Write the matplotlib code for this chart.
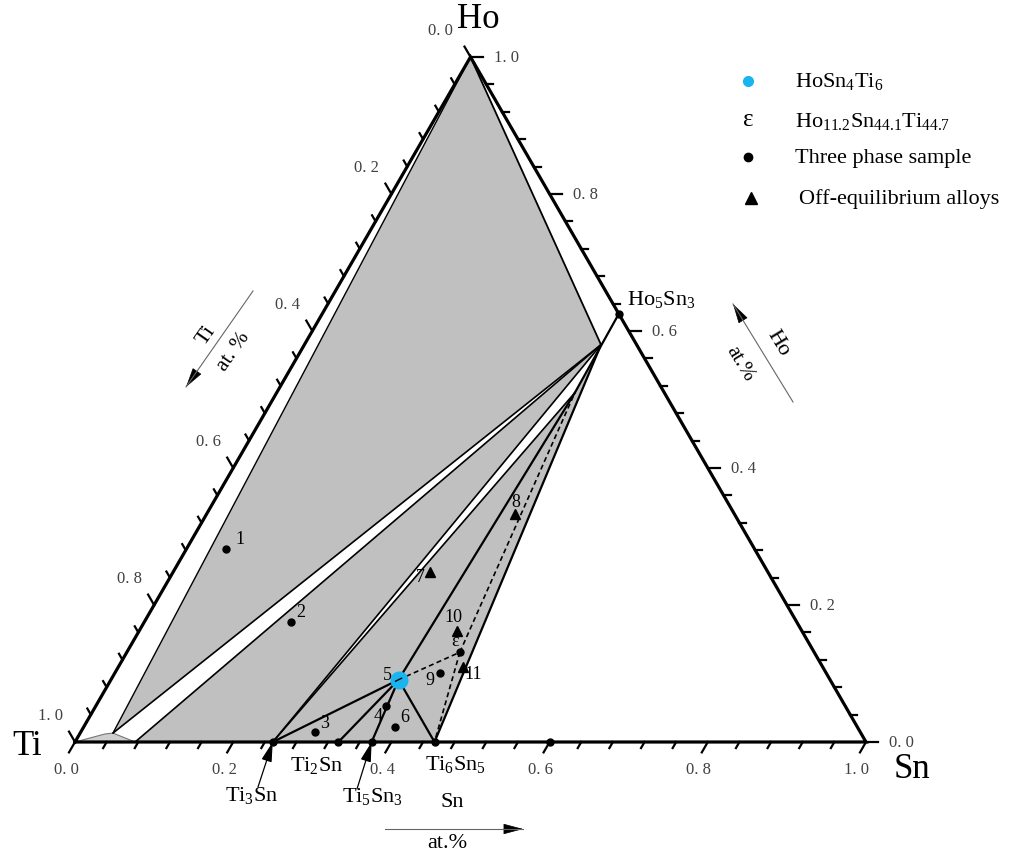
import numpy as np
import matplotlib
matplotlib.use('Agg')
import matplotlib.pyplot as plt
from matplotlib.patches import Polygon

plt.rcParams['font.family'] = ['Liberation Serif', 'DejaVu Serif']
plt.rcParams['mathtext.fontset'] = 'custom'
plt.rcParams['mathtext.rm'] = 'Liberation Serif'
plt.rcParams['mathtext.it'] = 'Liberation Serif:italic'

# ---------------- data: compositions as (Sn, Ho) atomic fractions ----------------
binary_names = ['Ti$_3$Sn', 'Ti$_2$Sn', 'Ti$_5$Sn$_3$', 'Ti$_6$Sn$_5$']
binary_sn = [0.25, 0.333, 0.375, 0.4545]
extra_dot_sn = [0.6]
ho5sn3 = (0.375, 0.625)
tau_comp = (0.3636, 0.0909)          # HoSn4Ti6 (sample 5)
eps_comp = (0.421, 0.131)            # epsilon
ss_a = (0.375, 0.58)                 # Ho5Sn3 solid solution end points
ss_b = (0.377, 0.51)
ti_ss_sn = [0.0, 0.032, 0.0415, 0.076]
ti_ss_ho = [0.0, 0.0117, 0.013, 0.0]

sample_ids = ['1', '2', '3', '4', '6', '9']
sample_sn = [0.050, 0.1855, 0.296, 0.367, 0.394, 0.411]
sample_ho = [0.282, 0.175, 0.0146, 0.0526, 0.0219, 0.1007]

offeq_ids = ['7', '8', '10', '11']
offeq_sn = [0.325, 0.390, 0.402, 0.436]
offeq_ho = [0.248, 0.333, 0.162, 0.1095]

tick_labels = ['0. 0', '0. 2', '0. 4', '0. 6', '0. 8', '1. 0']

S3 = np.sqrt(3) / 2


def T(sn, ho):
    sn = np.asarray(sn, float)
    ho = np.asarray(ho, float)
    return sn + ho / 2, ho * S3


def TP(c):
    return T(c[0], c[1])


def P(px, py):
    # layout helper: pixel position -> axes data coordinates
    return (px - 75) / 791, (743 - py) / 791


fig = plt.figure(figsize=(10.11, 8.54), dpi=100)
ax = fig.add_axes([0, 0, 1, 1])
ax.set_xlim(-75 / 791, 936 / 791)
ax.set_ylim(-111 / 791, 743 / 791)
ax.axis('off')

GRAY = '#c0c0c0'
HO = (0.0, 1.0)
p1 = (ti_ss_sn[2], ti_ss_ho[2])
p2 = (ti_ss_sn[3], ti_ss_ho[3])
ti3 = (binary_sn[0], 0.0)
ti2 = (binary_sn[1], 0.0)
ti53 = (binary_sn[2], 0.0)
ti65 = (binary_sn[3], 0.0)


def poly(pts, fc, ec='none', lw=0, z=1):
    xs, ys = T([p[0] for p in pts], [p[1] for p in pts])
    ax.add_patch(Polygon(np.column_stack([xs, ys]), closed=True, fc=fc, ec=ec, lw=lw, zorder=z))


poly([HO, ss_a, p1], GRAY)
poly([p2, ss_a, ti3], GRAY)
poly([ti3, ss_b, ss_a, ti65], GRAY)
# Ti solid solution
xs, ys = T(ti_ss_sn, ti_ss_ho)
ax.add_patch(Polygon(np.column_stack([xs, ys]), closed=True, fc='#cfcfcf', ec='#777777', lw=0.8, zorder=2))


def seg(a, b, lw=1.4, ls='-', color='black', z=3):
    xs, ys = T([a[0], b[0]], [a[1], b[1]])
    ax.plot(xs, ys, color=color, lw=lw, ls=ls, zorder=z, solid_capstyle='round')


# phase boundary lines
seg(HO, p1, lw=1.0)
seg(HO, ss_a, lw=1.3)
seg(ss_a, p1, lw=1.2)
seg(ss_a, p2, lw=1.2)
seg(ss_a, ti3, lw=1.2)
seg(ss_b, ti3, lw=1.2)
seg(ho5sn3, ss_b, lw=1.6)
seg(ss_a, ti65, lw=1.6)
seg(tau_comp, ss_b, lw=1.6)
seg(tau_comp, ti3, lw=1.6)
seg(tau_comp, ti2, lw=1.6)
seg(tau_comp, ti53, lw=1.6)
seg(tau_comp, ti65, lw=1.6)
seg(tau_comp, eps_comp, lw=1.2, ls=(0, (3, 2)))
seg(eps_comp, ti65, lw=1.2, ls=(0, (3, 2)))
seg(eps_comp, ss_b, lw=1.2, ls=(0, (3, 2)))

# triangle frame
xs, ys = T([0, 1, 0, 0], [0, 0, 1, 0])
ax.plot(xs, ys, color='black', lw=2.3, zorder=5, solid_joinstyle='miter')

# ticks
tvals = np.round(np.arange(0, 1.0001, 0.04), 4)
minor_len, major_len = 7 / 791, 12 / 791
for v in tvals:
    major = abs(v * 5 - round(v * 5)) < 1e-6
    L = major_len if major else minor_len
    x0, y0 = T(v, 0)
    ax.plot([x0, x0 - 0.5 * L], [y0, y0 - S3 * L], color='black', lw=1.6, zorder=5)
    x0, y0 = T(1 - v, v)
    ax.plot([x0, x0 + L], [y0, y0], color='black', lw=1.6, zorder=5)
    x0, y0 = T(0, 1 - v)
    ax.plot([x0, x0 - 0.5 * L], [y0, y0 + S3 * L], color='black', lw=1.6, zorder=5)

for i, lab in enumerate(tick_labels):
    v = i * 0.2
    x0, y0 = T(v, 0)
    ax.text(x0 - 9 / 791, y0 - 27 / 791, lab, ha='center', va='center', fontsize=12, color='#404040')
    x0, y0 = T(1 - v, v)
    ax.text(x0 + 23 / 791, y0, lab, ha='left', va='center', fontsize=12, color='#404040')
    x0, y0 = T(0, 1 - v)
    dx = -30 if i == 0 else -25
    ax.text(x0 + dx / 791, y0 + 27 / 791, lab, ha='center', va='center', fontsize=12, color='#404040')

# vertex labels
ax.text(*P(478, 19), 'Ho', fontsize=25, ha='center', va='center')
ax.text(*P(27, 747), 'Ti', fontsize=25, ha='center', va='center')
ax.text(*P(912, 770), 'Sn', fontsize=25, ha='center', va='center')

# binary compound dots
bx, by = T(binary_sn + extra_dot_sn, [0] * (len(binary_sn) + len(extra_dot_sn)))
ax.plot(bx, by, 'o', color='black', ms=5, zorder=6)
hx, hy = TP(ho5sn3)
ax.plot(hx, hy, 'o', color='black', ms=5, zorder=6)
ax.text(*P(627, 300), 'Ho$_5$Sn$_3$', fontsize=16, ha='left', va='center')

ax.text(*P(317, 766), binary_names[1], fontsize=16, ha='center', va='center')
ax.text(*P(456, 765), binary_names[3], fontsize=16, ha='center', va='center')
ax.text(*P(252, 796), binary_names[0], fontsize=16, ha='center', va='center')
ax.text(*P(373, 797), binary_names[2], fontsize=16, ha='center', va='center')
HEAD = '-|>,head_length=0.75,head_width=0.2'
arr = dict(arrowstyle=HEAD, color='black', lw=0.9, mutation_scale=16, shrinkA=0, shrinkB=0)
ax.annotate('', xy=T(*ti3), xytext=P(258, 788), arrowprops=arr)
ax.annotate('', xy=T(*ti53), xytext=P(357, 790), arrowprops=arr)

# samples
sx, sy = T(sample_sn, sample_ho)
ax.plot(sx, sy, 'o', color='black', ms=5, zorder=7)
s_off = {'1': (14, 10), '2': (10, 11), '3': (10, 9), '4': (-8, -10), '6': (9, 10), '9': (-10, -6)}
for i, lab in enumerate(sample_ids):
    ax.annotate(lab, (sx[i], sy[i]), xytext=s_off[lab], textcoords='offset pixels',
                ha='center', va='center', fontsize=13)

ox, oy = T(offeq_sn, offeq_ho)
ax.plot(ox, oy, '^', color='black', ms=7, zorder=7)
o_off = {'7': (-10, -4), '8': (1, 12), '10': (-4, 15), '11': (10, -7)}
for i, lab in enumerate(offeq_ids):
    ax.annotate(lab, (ox[i], oy[i]), xytext=o_off[lab], textcoords='offset pixels',
                ha='center', va='center', fontsize=13)

ex, ey = TP(eps_comp)
ax.plot(ex, ey, 'o', color='black', ms=5, zorder=7)
ax.annotate('ε', (ex, ey), xytext=(-5, 12), textcoords='offset pixels', ha='center', va='center', fontsize=13)

tx, ty = TP(tau_comp)
ax.plot(tx, ty, 'o', color='#1ab4f0', ms=12, zorder=8)
ax.plot([tx - 3 / 791, tx + 3 / 791], [ty - 1.5 / 791, ty + 1.5 / 791], color='black', lw=1.0, zorder=9)
ax.annotate('5', (tx, ty), xytext=(-11, 5), textcoords='offset pixels', ha='center', va='center', fontsize=13)


# axis titles with arrows (grey shaft, black head)
def title_arrow(start, end):
    ax.plot([start[0], end[0]], [start[1], end[1]], color='#666666', lw=0.8, zorder=4)
    d = np.array(end) - np.array(start)
    d = d / np.linalg.norm(d)
    back = np.array(end) - d * 14 / 791
    ax.annotate('', xy=end, xytext=tuple(back),
                arrowprops=dict(arrowstyle=HEAD, color='black',
                                lw=0.5, mutation_scale=17, shrinkA=0, shrinkB=0))


title_arrow(P(385, 830), P(523, 830))
ax.text(*P(452, 803), 'Sn', fontsize=16, ha='center', va='center')
ax.text(*P(447, 844), 'at.%', fontsize=16, ha='center', va='center')

title_arrow(P(253, 292), P(186, 388))
ax.text(*P(206, 336), 'Ti', fontsize=16, ha='center', va='center', rotation=55)
ax.text(*P(234, 352), 'at. %', fontsize=15, ha='center', va='center', rotation=55)

title_arrow(P(793, 403), P(733, 305))
ax.text(*P(778, 343), 'Ho', fontsize=16, ha='center', va='center', rotation=-59)
ax.text(*P(740, 364), 'at.%', fontsize=15, ha='center', va='center', rotation=-59)

# legend
ax.plot(*P(748, 82), 'o', color='#1ab4f0', ms=7)
ax.text(*P(795, 82), 'HoSn$_4$Ti$_6$', fontsize=16, ha='left', va='center')
ax.text(*P(748, 120), 'ε', fontsize=18, ha='center', va='center')
ax.text(*P(795, 122), 'Ho$_{11.2}$Sn$_{44.1}$Ti$_{44.7}$', fontsize=16, ha='left', va='center')
ax.plot(*P(748, 158), 'o', color='black', ms=6)
ax.text(*P(795, 158), 'Three phase sample', fontsize=16, ha='left', va='center')
ax.plot(*P(751, 199), '^', color='black', ms=8)
ax.text(*P(799, 199), 'Off-equilibrium alloys', fontsize=16, ha='left', va='center')

fig.savefig('out.png', dpi=100)
